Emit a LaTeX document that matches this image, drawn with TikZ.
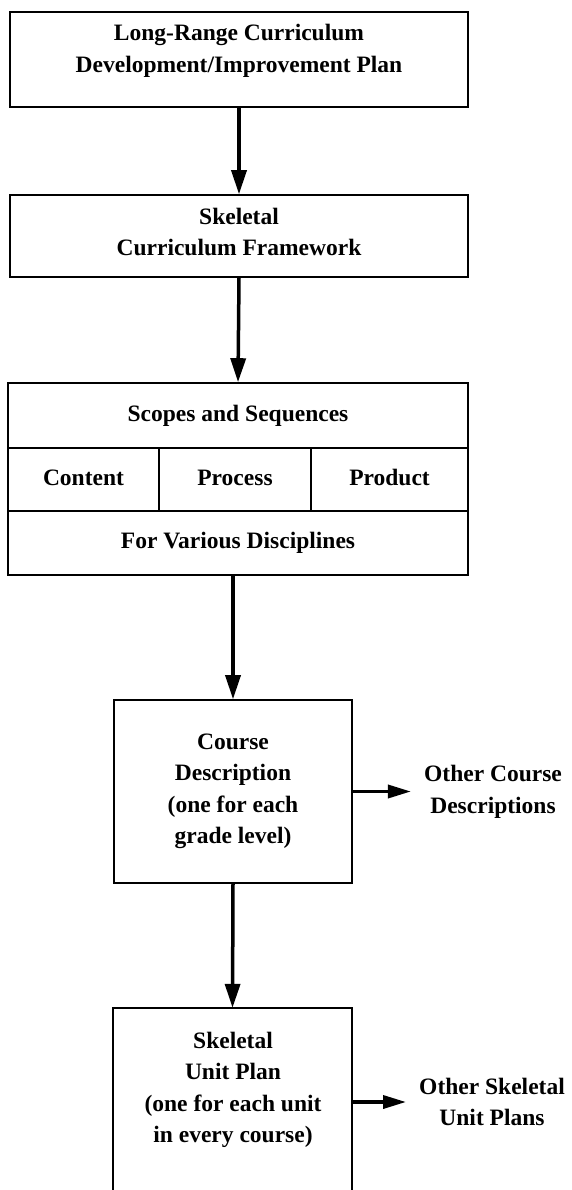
\documentclass[tikz,border=0pt]{standalone}
\usepackage{fontspec}
\setmainfont{Liberation Serif}
\usetikzlibrary{arrows.meta}
\begin{document}
\begin{tikzpicture}[x=1pt,y=-1pt,
  box/.style={draw,line width=1.6pt,inner sep=0pt},
  lbl/.style={font=\bfseries\fontsize{23.5}{31.5}\selectfont,align=center,inner sep=0pt},
  cell/.style={box,lbl,text height=16pt,text depth=5pt},
  flow/.style={line width=3.5pt,-{Triangle[width=15pt,length=24pt]}},
  side/.style={line width=3.5pt,-{Triangle[width=13pt,length=23pt]}}]
\useasboundingbox (0,0) rectangle (571,1190);

% box 1
\node[box,minimum width=458pt,minimum height=95pt] (plan) at (239,59.5) {};
\node[lbl] (plantext) at (239,51) {Long-Range Curriculum\\Development/Improvement Plan};

% box 2
\node[box,minimum width=458pt,minimum height=82pt] (frame) at (239,236) {};
\node[lbl] (frametext) at (239,232) {Skeletal\\Curriculum Framework};

% box 3 (cells)
\node[cell,minimum width=460pt,minimum height=65pt] (scopes) at (238,415.5) {Scopes and Sequences};
\node[cell,minimum width=151pt,minimum height=63pt] (content) at (83.5,479.5) {Content};
\node[cell,minimum width=152pt,minimum height=63pt] (process) at (235,479.5) {Process};
\node[cell,minimum width=157pt,minimum height=63pt] (product) at (389.5,479.5) {Product};
\node[cell,minimum width=460pt,minimum height=64pt] (disc) at (238,543) {For Various Disciplines};

% box 4
\node[box,lbl,minimum width=238pt,minimum height=183pt] (course) at (233,791.5)
  {Course\\Description\\(one for each\\grade level)};
\node[lbl] (othercourse) at (493,792) {Other Course\\Descriptions};

% box 5 (open at the bottom)
\node[inner sep=0pt,minimum width=239pt,minimum height=184pt] (unit) at (232.5,1100) {};
\draw[line width=1.6pt] (unit.south west) -- (unit.north west) -- (unit.north east) -- (unit.south east);
\node[lbl] (unittext) at (233,1090) {Skeletal\\Unit Plan\\(one for each unit\\in every course)};
\node[lbl] (otherunit) at (492,1102) {Other Skeletal\\Unit Plans};

% connectors
\draw[flow] (plan.south) -- (frame.north);
\draw[flow] (frame.south) -- (scopes.north);
\draw[flow] (disc.south -| course.north) -- (course.north);
\draw[flow] (course.south) -- (unit.north);
\draw[side,shorten >=13pt] (course.east) -- (othercourse.west |- course.east);
\draw[side,shorten >=13pt] (course.east |- otherunit.west) -- (otherunit.west);
\end{tikzpicture}
\end{document}
